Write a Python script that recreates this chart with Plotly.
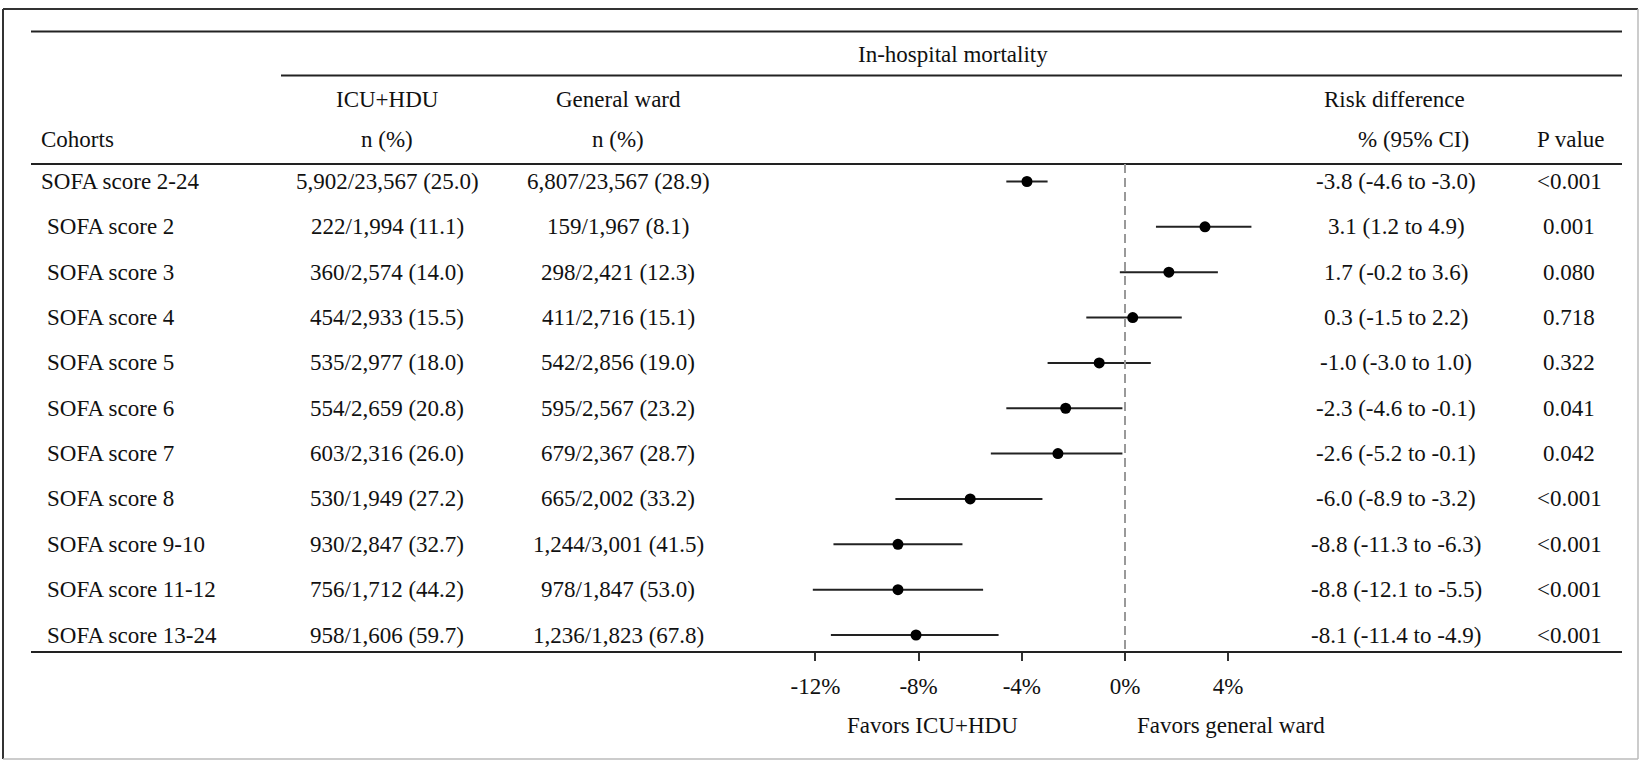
import plotly.graph_objects as go

# ---------------- data ----------------
cohorts = ["SOFA score 2-24", "SOFA score 2", "SOFA score 3", "SOFA score 4", "SOFA score 5",
           "SOFA score 6", "SOFA score 7", "SOFA score 8", "SOFA score 9-10",
           "SOFA score 11-12", "SOFA score 13-24"]
icu_hdu = ["5,902/23,567 (25.0)", "222/1,994 (11.1)", "360/2,574 (14.0)", "454/2,933 (15.5)",
           "535/2,977 (18.0)", "554/2,659 (20.8)", "603/2,316 (26.0)", "530/1,949 (27.2)",
           "930/2,847 (32.7)", "756/1,712 (44.2)", "958/1,606 (59.7)"]
general_ward = ["6,807/23,567 (28.9)", "159/1,967 (8.1)", "298/2,421 (12.3)", "411/2,716 (15.1)",
                "542/2,856 (19.0)", "595/2,567 (23.2)", "679/2,367 (28.7)", "665/2,002 (33.2)",
                "1,244/3,001 (41.5)", "978/1,847 (53.0)", "1,236/1,823 (67.8)"]
rd = [-3.8, 3.1, 1.7, 0.3, -1.0, -2.3, -2.6, -6.0, -8.8, -8.8, -8.1]
ci_low = [-4.6, 1.2, -0.2, -1.5, -3.0, -4.6, -5.2, -8.9, -11.3, -12.1, -11.4]
ci_high = [-3.0, 4.9, 3.6, 2.2, 1.0, -0.1, -0.1, -3.2, -6.3, -5.5, -4.9]
p_values = ["<0.001", "0.001", "0.080", "0.718", "0.322", "0.041", "0.042",
            "<0.001", "<0.001", "<0.001", "<0.001"]
tick_vals = [-12, -8, -4, 0, 4]
tick_text = ["-12%", "-8%", "-4%", "0%", "4%"]

# ---------------- layout helpers ----------------
W, H = 1642, 761
def px(x):
    return x / W
def py(y):
    return 1 - y / H

FONT = "Liberation Serif, Times New Roman, serif"
FS = 23
TXT = "#111111"

row_y0, row_step = 181.5, 45.35
rows = list(range(len(cohorts)))
y_range = [(H - row_y0) / row_step, -row_y0 / row_step]

zero_px, px_per_unit = 1125.0, 25.8
x_lo, x_hi = -13.0, 5.0
x_dom = [px(zero_px + x_lo * px_per_unit), px(zero_px + x_hi * px_per_unit)]

fig = go.Figure()

# forest points with CIs
fig.add_trace(go.Scatter(
    x=rd, y=rows, mode="markers",
    marker=dict(color="black", size=11, symbol="circle"),
    error_x=dict(type="data", symmetric=False,
                 array=[h - r for h, r in zip(ci_high, rd)],
                 arrayminus=[r - l for r, l in zip(rd, ci_low)],
                 color="#222222", thickness=2, width=0),
    xaxis="x", yaxis="y", hoverinfo="skip", showlegend=False))

annotations = []
def add_text(x, y, text, xanchor="center", yref="paper"):
    annotations.append(dict(x=x, y=y, xref="paper", yref=yref, text=text,
                            showarrow=False, xanchor=xanchor, yanchor="middle",
                            font=dict(family=FONT, size=FS, color=TXT)))

# table body
for i in rows:
    add_text(px(39 if i == 0 else 45), i, cohorts[i], xanchor="left", yref="y")
    add_text(px(387), i, icu_hdu[i], yref="y")
    add_text(px(618), i, general_ward[i], yref="y")
    add_text(px(1396), i, f"{rd[i]:.1f} ({ci_low[i]:.1f} to {ci_high[i]:.1f})", yref="y")
    add_text(px(1569), i, p_values[i], yref="y")

# headers
add_text(px(953), py(54), "In-hospital mortality")
add_text(px(387), py(100), "ICU+HDU")
add_text(px(618), py(100), "General ward")
add_text(px(1394), py(100), "Risk difference")
add_text(px(39), py(140), "Cohorts", xanchor="left")
add_text(px(387), py(140), "n (%)")
add_text(px(618), py(140), "n (%)")
add_text(px(1413), py(140), "% (95% CI)")
add_text(px(1571), py(140), "P value")
add_text(px(932), py(725), "Favors ICU+HDU")
add_text(px(1231), py(725), "Favors general ward")

shapes = []
def hline(x0, x1, y, color="#222222", width=2):
    shapes.append(dict(type="line", xref="paper", yref="paper",
                       x0=px(x0), x1=px(x1), y0=py(y), y1=py(y),
                       line=dict(color=color, width=width)))

hline(31, 1622, 31.5)
hline(281, 1622, 75.5)
hline(31, 1622, 164)
hline(31, 1622, 652)

# outer border
shapes.append(dict(type="line", xref="paper", yref="paper", x0=px(3), x1=px(1638),
                   y0=py(9), y1=py(9), line=dict(color="#333333", width=2)))
shapes.append(dict(type="line", xref="paper", yref="paper", x0=px(3), x1=px(3),
                   y0=py(9), y1=py(759), line=dict(color="#333333", width=2)))
shapes.append(dict(type="line", xref="paper", yref="paper", x0=px(1638), x1=px(1638),
                   y0=py(9), y1=py(759), line=dict(color="#bbbbbb", width=1.5)))
shapes.append(dict(type="line", xref="paper", yref="paper", x0=px(3), x1=px(1638),
                   y0=py(759), y1=py(759), line=dict(color="#bbbbbb", width=1.5)))

# zero reference line
shapes.append(dict(type="line", xref="x", yref="paper", x0=0, x1=0,
                   y0=py(164), y1=py(652),
                   line=dict(color="#999999", width=2, dash="9px,5px")))

fig.update_layout(
    width=W, height=H,
    margin=dict(l=0, r=0, t=0, b=0),
    paper_bgcolor="white", plot_bgcolor="rgba(0,0,0,0)",
    showlegend=False,
    xaxis=dict(domain=x_dom, range=[x_lo, x_hi], anchor="free", position=py(652),
               tickvals=tick_vals, ticktext=tick_text, ticks="outside", ticklen=8,
               tickwidth=1.5, tickcolor="#333333", showline=False, showgrid=False,
               zeroline=False, ticklabelstandoff=5,
               tickfont=dict(family=FONT, size=FS, color=TXT), fixedrange=True),
    yaxis=dict(domain=[0, 1], range=y_range, visible=False, showgrid=False,
               zeroline=False, fixedrange=True),
    annotations=annotations,
    shapes=shapes,
)

fig.write_html("out.html")
